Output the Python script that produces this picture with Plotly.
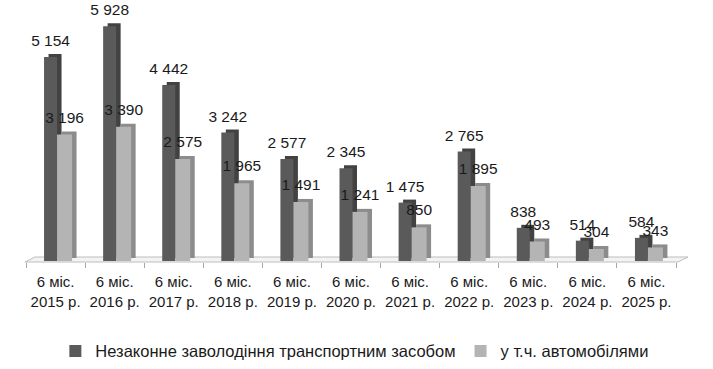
import plotly.graph_objects as go

# ---- data ----
periods = ["6 міс.<br>2015 р.", "6 міс.<br>2016 р.", "6 міс.<br>2017 р.", "6 міс.<br>2018 р.",
           "6 міс.<br>2019 р.", "6 міс.<br>2020 р.", "6 міс.<br>2021 р.", "6 міс.<br>2022 р.",
           "6 міс.<br>2023 р.", "6 міс.<br>2024 р.", "6 міс.<br>2025 р."]
total = [5154, 5928, 4442, 3242, 2577, 2345, 1475, 2765, 838, 514, 584]
cars = [3196, 3390, 2575, 1965, 1491, 1241, 850, 1895, 493, 304, 343]
series_names = ["Незаконне заволодіння транспортним засобом", "у т.ч. автомобілями"]

# ---- geometry (pixel-based styling) ----
W, H = 713, 369
ML, MR, MT, MB = 26, 37, 10, 107
PW = W - ML - MR
PH = H - MT - MB
N = len(periods)
XR = [-0.5, N - 0.5]
YR = [-25, 6338]
ux = (XR[1] - XR[0]) / PW      # x units per px
uy = (YR[1] - YR[0]) / PH      # y units per px

idx = list(range(N))
fmt = lambda v: f"{v:,}".replace(",", " ")

DX, DY = 4.5 * ux, 3 * uy
FONT = "Liberation Sans, Arial, sans-serif"

specs = [
    # values, front offset px, width px, front colour, side colour, label dx px, label lift px
    (total, -11.5, 13, "#5a5a5a", "#424242", -5, 7),
    (cars, 1.5, 15, "#b4b4b4", "#8c8c8c", 9, 8),
]

fig = go.Figure()
for k, (vals, off, wd, cf, cs, ldx, lift) in enumerate(specs):
    # depth (side + top) face
    fig.add_trace(go.Bar(
        x=idx, y=vals, base=[DY] * N, offset=off * ux + DX, width=wd * ux,
        marker=dict(color=cs, line=dict(width=0)), showlegend=False, hoverinfo="skip"))
    # front face
    fig.add_trace(go.Bar(
        x=idx, y=vals, offset=off * ux, width=wd * ux, name=series_names[k],
        marker=dict(color=cf, line=dict(width=0)), showlegend=True))

for k, (vals, off, wd, cf, cs, ldx, lift) in enumerate(specs):
    fig.add_trace(go.Scatter(
        x=[i + ldx * ux for i in idx], y=[v + lift * uy for v in vals], mode="text",
        text=[fmt(v) for v in vals], textposition="top center",
        textfont=dict(family=FONT, size=15.5, color="#1a1a1a"),
        showlegend=False, hoverinfo="skip", cliponaxis=False))

# floor (3D base plane)
px2x = lambda p: (p - ML) / PW
py2y = lambda p: (MT + PH - p) / PH
floor_path = (f"M {px2x(25)},{py2y(262)} L {px2x(678)},{py2y(262)} "
              f"L {px2x(688)},{py2y(257)} L {px2x(35)},{py2y(257)} Z")
fig.add_shape(type="path", path=floor_path, xref="paper", yref="paper",
              fillcolor="#f3f3f3", line=dict(color="#bdbdbd", width=1), layer="below")

fig.update_layout(
    width=W, height=H,
    margin=dict(l=ML, r=MR, t=MT, b=MB, autoexpand=False),
    paper_bgcolor="white", plot_bgcolor="white",
    barmode="overlay",
    showlegend=True,
    legend=dict(orientation="h", xref="container", yref="container",
                x=0.497, xanchor="center", y=0.048, yanchor="middle",
                font=dict(family=FONT, size=16.5, color="#1a1a1a"),
                itemwidth=30, traceorder="normal"),
    xaxis=dict(range=XR, tickmode="array", tickvals=idx, ticktext=periods,
               ticks="", showgrid=False, zeroline=False, showline=False,
               automargin=False, ticklabelstandoff=9,
               tickfont=dict(family=FONT, size=15, color="#1a1a1a"),
               minor=dict(tickmode="linear", tick0=-0.5, dtick=1, ticks="outside",
                          ticklen=5, tickcolor="#a6a6a6", tickwidth=1, showgrid=False)),
    yaxis=dict(range=YR, visible=False, showgrid=False, zeroline=False, automargin=False),
)

fig.write_html("out.html", config={"displayModeBar": False},
               post_script="document.body.style.margin='0';document.body.style.overflow='hidden';")
